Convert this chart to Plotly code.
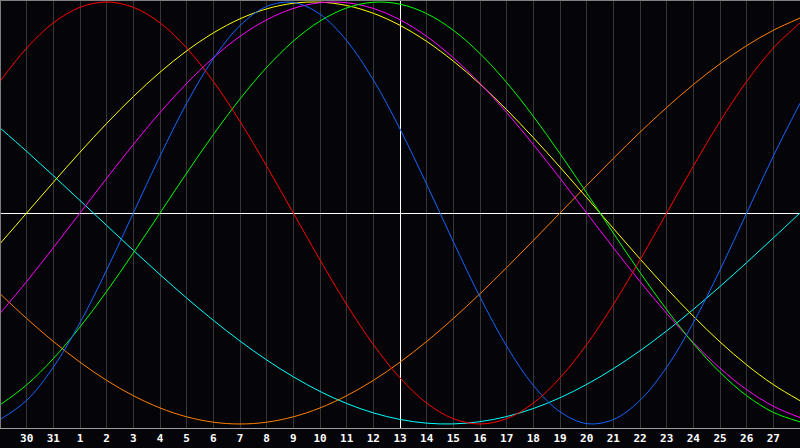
import plotly.graph_objects as go

# day offsets relative to "today" (the 13th), one sample per day
day_offsets = list(range(-15, 16))
tick_offsets = list(range(-14, 15))
tick_labels = ["30", "31"] + [str(d) for d in range(1, 28)]

physical = [-0.979, -0.888, -0.731, -0.520, -0.270, 0.0, 0.270, 0.520, 0.731, 0.888,
            0.979, 0.998, 0.942, 0.817, 0.631, 0.398, 0.136, -0.136, -0.398, -0.631,
            -0.817, -0.942, -0.998, -0.979, -0.888, -0.731, -0.520, -0.270, 0.0, 0.270, 0.520]
emotional = [0.6235, 0.7818, 0.9010, 0.9749, 1.0, 0.9749, 0.9010, 0.7818, 0.6235, 0.4339,
             0.2225, 0.0, -0.2225, -0.4339, -0.6235, -0.7818, -0.9010, -0.9749, -1.0, -0.9749,
             -0.9010, -0.7818, -0.6235, -0.4339, -0.2225, 0.0, 0.2225, 0.4339, 0.6235, 0.7818, 0.9010]
intellectual = [-0.9096, -0.8146, -0.6901, -0.5406, -0.3717, -0.1893, 0.0, 0.1893, 0.3717, 0.5406,
                0.6901, 0.8146, 0.9096, 0.9718, 0.9989, 0.9898, 0.9450, 0.8660, 0.7557, 0.6182,
                0.4582, 0.2817, 0.0951, -0.0951, -0.2817, -0.4582, -0.6182, -0.7557, -0.8660, -0.9450, -0.9898]
intuitive = [-0.4759, -0.3247, -0.1646, 0.0, 0.1646, 0.3247, 0.4759, 0.6142, 0.7357, 0.8372,
             0.9158, 0.9694, 0.9966, 0.9966, 0.9694, 0.9158, 0.8372, 0.7357, 0.6142, 0.4759,
             0.3247, 0.1646, 0.0, -0.1646, -0.3247, -0.4759, -0.6142, -0.7357, -0.8372, -0.9158, -0.9694]
aesthetic = [-0.1456, 0.0, 0.1456, 0.2881, 0.4245, 0.5517, 0.6671, 0.7684, 0.8535, 0.9204,
             0.9675, 0.9940, 0.9993, 0.9834, 0.9465, 0.8894, 0.8133, 0.7199, 0.6111, 0.4894,
             0.3572, 0.2175, 0.0730, -0.0730, -0.2175, -0.3572, -0.4894, -0.6111, -0.7199, -0.8133, -0.8894]
awareness = [-0.3827, -0.5, -0.6088, -0.7071, -0.7934, -0.8660, -0.9239, -0.9659, -0.9914, -1.0,
             -0.9914, -0.9659, -0.9239, -0.8660, -0.7934, -0.7071, -0.6088, -0.5, -0.3827, -0.2588,
             -0.1305, 0.0, 0.1305, 0.2588, 0.3827, 0.5, 0.6088, 0.7071, 0.7934, 0.8660, 0.9239]
spiritual = [0.4031, 0.2920, 0.1769, 0.0593, -0.0593, -0.1769, -0.2920, -0.4031, -0.5086, -0.6068,
             -0.6966, -0.7764, -0.8457, -0.9028, -0.9473, -0.9785, -0.9961, -0.9996, -0.9890, -0.9647,
             -0.9267, -0.8757, -0.8124, -0.7378, -0.6529, -0.5587, -0.4566, -0.3482, -0.2349, -0.1182, 0.0]

series = [
    ("Spiritual", spiritual, "#00ffff"),
    ("Awareness", awareness, "#ff8000"),
    ("Aesthetic", aesthetic, "#ffff00"),
    ("Intuitive", intuitive, "#ff00ff"),
    ("Intellectual", intellectual, "#00ff00"),
    ("Physical", physical, "#1464ff"),
    ("Emotional", emotional, "#ff0000"),
]

BG = "#050509"
fig = go.Figure()
for name, vals, color in series:
    fig.add_trace(go.Scatter(
        x=day_offsets, y=vals, mode="lines", name=name,
        line=dict(color=color, width=1, shape="spline", smoothing=1),
        hoverinfo="skip", showlegend=False,
    ))

fig.update_layout(
    width=800, height=448,
    margin=dict(l=0, r=0, t=0, b=20, autoexpand=False),
    paper_bgcolor=BG, plot_bgcolor=BG,
    showlegend=False,
)
fig.update_xaxes(
    range=[-15, 15], tickmode="array", tickvals=tick_offsets, ticktext=tick_labels,
    showgrid=True, gridcolor="#363636", gridwidth=1,
    zeroline=True, zerolinecolor="#ffffff", zerolinewidth=1,
    ticks="", showline=True, linecolor="#a0a0a0", linewidth=1,
    tickfont=dict(family="DejaVu Sans Mono", size=11, color="#ffffff", weight="bold"),
)
fig.update_yaxes(
    range=[-1.019, 1.0095], showgrid=False, showticklabels=False,
    zeroline=True, zerolinecolor="#ffffff", zerolinewidth=1, ticks="",
)
# gray frame lines on left and top edges
fig.add_shape(type="line", xref="paper", yref="paper", x0=0.0006, x1=0.0006, y0=0, y1=1,
              line=dict(color="#808080", width=1), layer="above")
fig.add_shape(type="line", xref="paper", yref="paper", x0=0, x1=1, y0=0.9988, y1=0.9988,
              line=dict(color="#808080", width=1), layer="above")

fig.write_html(
    "out.html",
    config={"displayModeBar": False},
    post_script="document.body.style.margin='0';document.body.style.overflow='hidden';document.body.style.background='%s';" % BG,
)
